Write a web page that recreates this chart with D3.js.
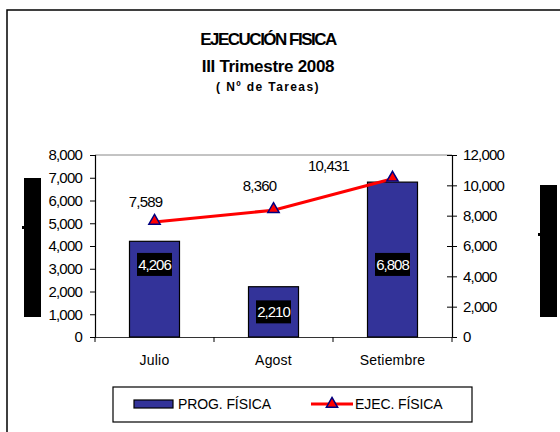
<!DOCTYPE html>
<html>
<head>
<meta charset="utf-8">
<script src="https://cdn.jsdelivr.net/npm/d3@7"></script>
<style>
  body { margin: 0; background: #fff; }
  svg { display: block; font-family: "Liberation Sans", Arial, sans-serif; }
</style>
</head>
<body>
<svg id="svg"></svg>
<script>
// data
const months = ["Julio", "Agost", "Setiembre"];
const progFisica = [4206, 2210, 6808];
const ejecFisica = [7589, 8360, 10431];
const leftTicks = [0, 1000, 2000, 3000, 4000, 5000, 6000, 7000, 8000];
const rightTicks = [0, 2000, 4000, 6000, 8000, 10000, 12000];

const width = 560;
const height = 432;
const navy = "#333399";

let svg = d3.select("#svg").attr("width", width).attr("height", height);

// outer frame (runs off the right and bottom)
svg.append("rect")
    .attr("x", 7).attr("y", 10)
    .attr("width", 600).attr("height", 500)
    .attr("fill", "#fff")
    .attr("stroke", "#000").attr("stroke-width", 1.5);

// title
svg.append("text")
    .attr("x", 268).attr("y", 45)
    .attr("text-anchor", "middle")
    .style("font-size", "17px").style("font-weight", "bold")
    .style("letter-spacing", "-1.5px")
    .text("EJECUCIÓN FISICA");
svg.append("text")
    .attr("x", 268).attr("y", 72)
    .attr("text-anchor", "middle")
    .style("font-size", "17px").style("font-weight", "bold")
    .style("letter-spacing", "-0.3px")
    .text("III Trimestre 2008");
svg.append("text")
    .attr("x", 268).attr("y", 91)
    .attr("text-anchor", "middle")
    .style("font-size", "12px").style("font-weight", "bold")
    .style("letter-spacing", "1.4px")
    .text("( Nº de Tareas)");

// plot area
const pLeft = 95, pRight = 452, pTop = 155, pBottom = 337;

let x = d3.scaleBand().domain(months).range([pLeft, pRight]);
let yL = d3.scaleLinear().domain([0, 8000]).range([pBottom, pTop]);
let yR = d3.scaleLinear().domain([0, 12000]).range([pBottom, pTop]);
let fmt = d3.format(",");

// top border of plot
svg.append("line")
    .attr("x1", pLeft).attr("x2", pRight)
    .attr("y1", pTop).attr("y2", pTop)
    .attr("stroke", "#888").attr("stroke-width", 1);

// left axis
let axL = svg.append("g")
    .attr("transform", `translate(${pLeft},0)`)
    .call(d3.axisLeft(yL).tickValues(leftTicks).tickFormat(fmt).tickSize(5).tickPadding(8));
// right axis
let axR = svg.append("g")
    .attr("transform", `translate(${pRight},0)`)
    .call(d3.axisRight(yR).tickValues(rightTicks).tickFormat(fmt).tickSize(5).tickPadding(6));
axR.selectAll(".tick line").attr("x1", -5);
// bottom axis
let axB = svg.append("g")
    .attr("transform", `translate(0,${pBottom})`)
    .call(d3.axisBottom(x).tickSize(0).tickPadding(18));
// category separator ticks
svg.selectAll(".sep")
    .data([0, 1, 2, 3])
    .enter().append("line")
    .attr("x1", d => pLeft + d * x.bandwidth())
    .attr("x2", d => pLeft + d * x.bandwidth())
    .attr("y1", pBottom).attr("y2", pBottom + 5)
    .attr("stroke", "#000");

[axL, axR, axB].forEach(ax => {
    ax.select(".domain").attr("stroke", "#000").attr("stroke-width", 1.2);
    ax.selectAll(".tick line").attr("stroke", "#000");
    ax.selectAll(".tick text")
        .attr("fill", "#000")
        .style("font-size", "15px")
        .style("letter-spacing", "-0.8px")
        .style("font-family", "'Liberation Sans', Arial, sans-serif");
});
axB.selectAll(".tick text").style("font-size", "14px").style("letter-spacing", "0.2px");
axB.select(".domain").attr("stroke", "#333");

// bars
const barW = 50;
svg.selectAll(".bar")
    .data(progFisica)
    .enter().append("rect")
    .attr("class", "bar")
    .attr("x", (d, i) => x(months[i]) + x.bandwidth() / 2 - barW / 2)
    .attr("y", d => yL(d))
    .attr("width", barW)
    .attr("height", d => pBottom - yL(d))
    .attr("fill", navy)
    .attr("stroke", "#000").attr("stroke-width", 1.2);

// bar labels (white on black box), anchored in left-axis units
const barLabelAt = [3190, 1105, 3190];
progFisica.forEach((d, i) => {
    let cx = x(months[i]) + x.bandwidth() / 2;
    let cy = yL(barLabelAt[i]);
    let g = svg.append("g");
    g.append("rect")
        .attr("x", cx - 17.5).attr("y", cy - 11.5)
        .attr("width", 35).attr("height", 23)
        .attr("fill", "#000");
    g.append("text")
        .attr("x", cx).attr("y", cy + 5.5)
        .attr("text-anchor", "middle")
        .attr("fill", "#fff")
        .style("font-size", "15px")
        .style("letter-spacing", "-1px")
        .text(fmt(d));
});

// line
let line = d3.line()
    .x((d, i) => x(months[i]) + x.bandwidth() / 2)
    .y(d => yR(d));
svg.append("path")
    .datum(ejecFisica)
    .attr("d", line)
    .attr("fill", "none")
    .attr("stroke", "#ff0000")
    .attr("stroke-width", 3);

// triangle markers
let tri = d3.symbol().type(d3.symbolTriangle).size(55);
svg.selectAll(".mk")
    .data(ejecFisica)
    .enter().append("path")
    .attr("d", tri)
    .attr("transform", (d, i) => `translate(${x(months[i]) + x.bandwidth() / 2},${yR(d) - 1})`)
    .attr("fill", "#ff0000")
    .attr("stroke", "#000080").attr("stroke-width", 1.5);

// line labels
const lblDx = [-9, -14, -64];
const lblDy = [-15, -19, -8];
svg.selectAll(".lbl")
    .data(ejecFisica)
    .enter().append("text")
    .attr("x", (d, i) => x(months[i]) + x.bandwidth() / 2 + lblDx[i])
    .attr("y", (d, i) => yR(d) + lblDy[i])
    .attr("text-anchor", "middle")
    .style("font-size", "15px")
    .style("letter-spacing", "-0.8px")
    .text(d => fmt(d));

// axis titles shown as black blocks in the original
svg.append("rect").attr("x", 24).attr("y", 178).attr("width", 17).attr("height", 139).attr("fill", "#000");
svg.append("rect").attr("x", 22).attr("y", 226).attr("width", 3).attr("height", 3).attr("fill", "#000");
svg.append("rect").attr("x", 540).attr("y", 185).attr("width", 17).attr("height", 132).attr("fill", "#000");
svg.append("rect").attr("x", 538).attr("y", 233).attr("width", 3).attr("height", 3).attr("fill", "#000");

// legend
let lg = svg.append("g");
lg.append("rect")
    .attr("x", 113).attr("y", 387)
    .attr("width", 359).attr("height", 35)
    .attr("fill", "#fff").attr("stroke", "#000").attr("stroke-width", 1.2);
lg.append("rect")
    .attr("x", 134).attr("y", 400)
    .attr("width", 39).attr("height", 8)
    .attr("fill", navy).attr("stroke", "#000").attr("stroke-width", 1.2);
lg.append("text")
    .attr("x", 178).attr("y", 409)
    .style("font-size", "14px")
    .style("letter-spacing", "-0.1px")
    .text("PROG. FÍSICA");
lg.append("line")
    .attr("x1", 311).attr("x2", 353)
    .attr("y1", 404).attr("y2", 404)
    .attr("stroke", "#ff0000").attr("stroke-width", 3);
lg.append("path")
    .attr("d", tri)
    .attr("transform", "translate(332,404)")
    .attr("fill", "#ff0000")
    .attr("stroke", "#000080").attr("stroke-width", 1.5);
lg.append("text")
    .attr("x", 355).attr("y", 409)
    .style("font-size", "14px")
    .style("letter-spacing", "-0.1px")
    .text("EJEC. FÍSICA");
</script>
</body>
</html>
